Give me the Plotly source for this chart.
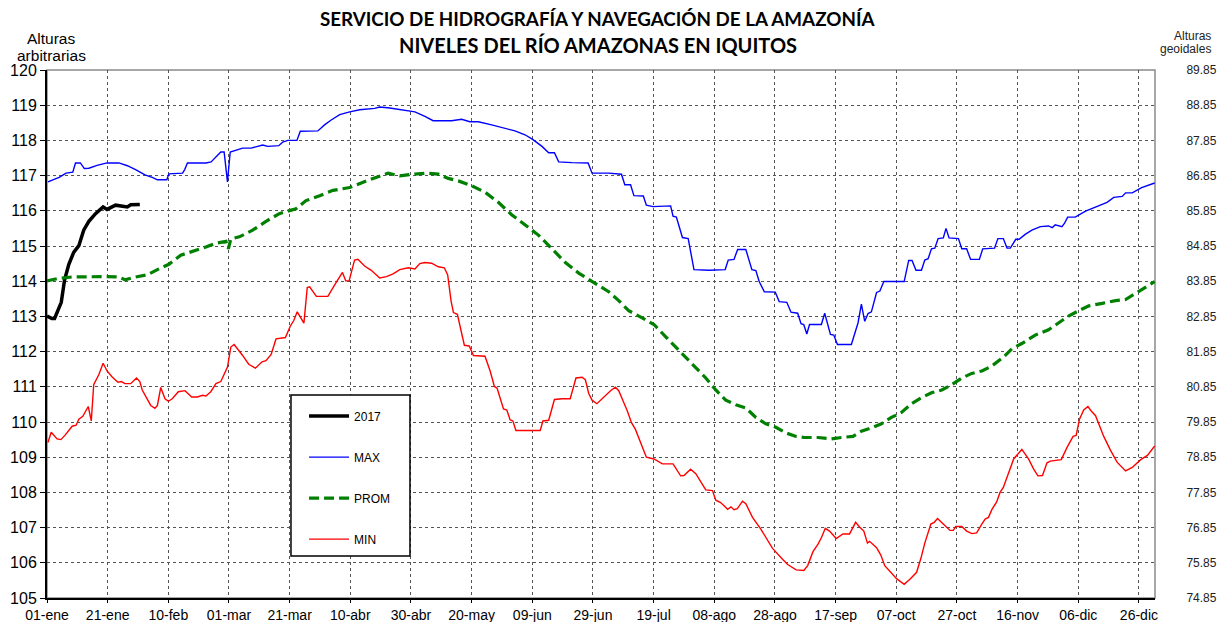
import plotly.graph_objects as go

# ---------------- data (day of year, leap-year calendar: 1 = 01-ene) ----------------
tick_days = [1, 21, 41, 61, 81, 101, 121, 141, 161, 181, 201, 221, 241, 261, 281, 301, 321, 341, 361]
tick_labels = ["01-ene", "21-ene", "10-feb", "01-mar", "21-mar", "10-abr", "30-abr", "20-may",
               "09-jun", "29-jun", "19-jul", "08-ago", "28-ago", "17-sep", "07-oct", "27-oct",
               "16-nov", "06-dic", "26-dic"]
left_ticks = list(range(105, 121))
right_ticks = [74.85, 75.85, 76.85, 77.85, 78.85, 79.85, 80.85, 81.85, 82.85, 83.85,
               84.85, 85.85, 86.85, 87.85, 88.85, 89.85]

y2017_days = [1, 2.6, 3.5, 4.9, 5.7, 6.8, 8.2, 9.8, 11.5, 13.1, 14.8, 17, 19.5, 20.8, 23.6, 27.5, 28.6, 31.6]
y2017_vals = [113.01, 112.94, 112.94, 113.27, 113.4, 114.04, 114.48, 114.82, 115.01, 115.45, 115.70,
              115.92, 116.11, 116.04, 116.16, 116.11, 116.17, 116.18]

max_days = [1.3, 3.2, 5, 7.3, 9.5, 10.4, 12, 13.3, 14.8, 17.5, 20.8, 24.7, 27.5, 30.2, 33.3, 35.7, 37.4,
            40.5, 41.2, 45.7, 46.4, 47.3, 53.4, 55.1, 56.7, 58.3, 59.4, 60.5, 61.4, 63.3, 65.5, 68.3,
            72.1, 73.8, 77.4, 78.7, 80.4, 83.4, 84.5, 90.3, 92.5, 94.7, 97.5, 100.8, 104.1, 109, 110.7,
            114, 118.4, 122.3, 125.6, 128.3, 134.4, 137.7, 140.4, 143.2, 147.6, 150.9, 155.3, 158.6,
            161.1, 164.2, 166.4, 168.3, 169.7, 174.1, 179.4, 180.7, 186.2, 190.4, 191.5, 193.4, 194.5,
            197.6, 198.6, 200.8, 206.6, 207.4, 208.5, 210.5, 212.4, 214.3, 219.3, 224.6, 225.6, 227.5,
            228.7, 231.4, 233.4, 234.7, 235.8, 237.5, 241.1, 242.4, 244.9, 246.3, 248.5, 249.6, 250.5,
            251.5, 252.4, 256.3, 257.4, 259.3, 260.4, 261.6, 266.2, 268.4, 269.5, 270.6, 271.7, 272.8,
            274.5, 275.6, 276.9, 283.6, 285.1, 286.2, 287.5, 289.3, 290.4, 291.5, 292.6, 293.7, 294.8,
            296.5, 297.4, 298.4, 301.5, 302.6, 304.2, 305.5, 308.4, 309.5, 313.4, 314.5, 316.3, 317.5,
            318.6, 320.4, 321.5, 323.5, 325.7, 328.5, 331.2, 332.4, 333.4, 335.6, 336.5, 337.5, 340,
            343.4, 346.1, 350.5, 352.7, 355.5, 356.6, 358.8, 361.9, 363.2, 366.2]
max_vals = [116.82, 116.89, 116.95, 117.07, 117.10, 117.36, 117.36, 117.20, 117.21, 117.29, 117.36,
            117.36, 117.28, 117.17, 117.02, 116.95, 116.88, 116.88, 117.05, 117.07, 117.17, 117.36,
            117.36, 117.39, 117.53, 117.67, 117.67, 116.82, 117.67, 117.73, 117.78, 117.78, 117.87,
            117.83, 117.85, 117.95, 118.0, 118.0, 118.26, 118.27, 118.44, 118.58, 118.73, 118.81,
            118.87, 118.91, 118.95, 118.92, 118.87, 118.81, 118.68, 118.56, 118.56, 118.60, 118.53,
            118.53, 118.44, 118.36, 118.27, 118.16, 118.03, 117.83, 117.65, 117.65, 117.39, 117.37,
            117.36, 117.07, 117.07, 117.04, 116.74, 116.74, 116.43, 116.42, 116.16, 116.12, 116.14,
            115.85, 115.82, 115.24, 115.21, 114.33, 114.31, 114.33, 114.60, 114.62, 114.90, 114.90,
            114.33, 114.30, 113.99, 113.70, 113.69, 113.42, 113.40, 113.12, 113.09, 112.79, 112.77,
            112.50, 112.77, 112.77, 113.09, 112.49, 112.47, 112.20, 112.20, 112.82, 113.35, 112.86,
            113.08, 113.13, 113.68, 113.72, 113.99, 113.99, 114.59, 114.59, 114.31, 114.31, 114.60,
            114.64, 114.92, 114.94, 115.21, 115.23, 115.50, 115.23, 115.21, 114.92, 114.92, 114.62,
            114.62, 114.92, 114.94, 115.21, 115.21, 114.94, 114.94, 115.19, 115.19, 115.33, 115.45,
            115.55, 115.57, 115.52, 115.60, 115.55, 115.65, 115.82, 115.82, 115.99, 116.09, 116.24,
            116.38, 116.41, 116.51, 116.51, 116.66, 116.70, 116.79]

prom_days = [1, 4.9, 9.3, 13.7, 19.2, 24.7, 26.7, 30.2, 34.1, 37.4, 41.2, 45.1, 50.1, 53.4, 56.7, 60,
             60.8, 61.6, 64.4, 68.8, 73.2, 77.6, 83.1, 86.4, 90.9, 95.3, 100.8, 104.6, 108.5, 113.5,
             117.3, 121.7, 126.1, 130, 133.3, 136.6, 141, 145.4, 149.8, 154.2, 158.6, 163, 167.5,
             171.9, 176.3, 180.7, 186.2, 189.5, 192.8, 197.2, 201.1, 205, 209.4, 213.8, 218.2, 221.5,
             224.8, 228.1, 231.4, 234.7, 238, 241.3, 244.6, 248, 250.7, 255.2, 259.6, 262.9, 266.7,
             269.5, 272.8, 276.1, 279.4, 282.7, 286, 289.3, 292.6, 296, 299.3, 302.6, 305.9, 309.2,
             312.5, 316.3, 319.1, 322.4, 326.8, 331.2, 334.5, 337.8, 341.1, 344.5, 348.9, 353.3,
             356.6, 359.9, 363.2, 366.2]
prom_vals = [114.01, 114.08, 114.12, 114.13, 114.13, 114.12, 114.04, 114.12, 114.18, 114.33, 114.48,
             114.74, 114.87, 114.97, 115.08, 115.13, 114.92, 115.20, 115.26, 115.45, 115.70, 115.92,
             116.06, 116.29, 116.43, 116.58, 116.66, 116.79, 116.92, 117.07, 116.99, 117.04, 117.07,
             117.04, 116.92, 116.85, 116.71, 116.53, 116.24, 115.89, 115.60, 115.31, 114.92, 114.53,
             114.23, 113.99, 113.70, 113.45, 113.16, 112.96, 112.77, 112.42, 112.03, 111.64, 111.25,
             110.91, 110.62, 110.49, 110.40, 110.13, 109.95, 109.85, 109.69, 109.59, 109.56, 109.56,
             109.52, 109.56, 109.59, 109.74, 109.83, 109.95, 110.13, 110.27, 110.52, 110.69, 110.83,
             110.91, 111.06, 111.25, 111.38, 111.45, 111.59, 111.84, 112.08, 112.23, 112.47, 112.62,
             112.82, 113.01, 113.16, 113.30, 113.37, 113.45, 113.48, 113.65, 113.82, 113.99]

min_days = [1.3, 2.4, 4.3, 5.6, 7.1, 9.3, 10.6, 11.5, 12.8, 14.6, 15.6, 16.4, 18.1, 19.5, 20.8, 22.5,
            24.4, 25.5, 26.7, 28.6, 30.5, 31.6, 32.4, 33.7, 35.2, 36.6, 37.4, 38.5, 39.9, 41, 42.3,
            44.3, 46.5, 48.7, 50.6, 52.3, 53.4, 55, 56.7, 58.3, 60.5, 61.6, 62.7, 65.5, 67.5, 69.7,
            71.9, 73.2, 74.9, 76.5, 79.6, 81.2, 82.4, 83.5, 84.5, 85.7, 86.8, 87.6, 89.8, 93.6, 95.8,
            98.4, 99.5, 100.6, 102.4, 103.5, 105.7, 107.9, 110.7, 112.9, 115.1, 117.3, 120.1, 122.3,
            123.9, 125.6, 127.8, 130, 132, 133.1, 134.2, 135, 136.3, 137.4, 138.6, 140.2, 141.6,
            145.4, 147.1, 148.5, 149.4, 151.5, 152.6, 153.7, 154.6, 155.6, 160.8, 163.6, 164.5,
            166.4, 168.3, 170.8, 173.5, 175.4, 177.4, 178.5, 179.6, 180.7, 182.3, 184.6, 186.8,
            188.4, 189.5, 192.3, 193.7, 195, 196.7, 198.6, 201.1, 203.9, 207.4, 209.9, 211, 213.2,
            214.9, 218.2, 220.4, 221.5, 223.1, 225.4, 226.5, 227.5, 228.6, 230.3, 231.4, 233.6,
            236.4, 240.2, 243.5, 245.2, 248, 250.5, 251.8, 253.5, 255.2, 256.3, 257.6, 259, 261.2,
            263.4, 265.6, 267.6, 268.9, 270.3, 271.5, 272.2, 274.5, 275.9, 277.2, 278.9, 281.1,
            283.6, 285.5, 287.7, 289.1, 290.4, 292.4, 293.5, 294.6, 296.5, 298.7, 299.8, 300.6,
            302.6, 304.2, 305.9, 307.5, 309.2, 310.3, 311.4, 312.5, 314.1, 315.2, 316.3, 318, 319.7,
            322.4, 324.6, 326.3, 327.7, 329.2, 330.7, 331.8, 335.4, 337.3, 339.3, 340.3, 341.4,
            342.8, 344.2, 345.2, 346.7, 349.4, 351.6, 353.8, 356.6, 358.8, 361.6, 363.8, 366.2]
min_vals = [109.42, 109.71, 109.52, 109.50, 109.64, 109.88, 109.91, 110.08, 110.16, 110.44, 110.03,
            111.06, 111.35, 111.67, 111.45, 111.28, 111.13, 111.15, 111.09, 111.09, 111.25, 111.15,
            110.91, 110.71, 110.47, 110.39, 110.47, 110.98, 110.66, 110.59, 110.66, 110.86, 110.89,
            110.71, 110.71, 110.76, 110.74, 110.86, 111.09, 111.15, 111.56, 112.13, 112.20, 111.89,
            111.64, 111.53, 111.71, 111.74, 111.92, 112.36, 112.40, 112.72, 112.89, 113.13, 112.98,
            112.81, 113.82, 113.84, 113.57, 113.57, 113.89, 114.25, 114.01, 114.01, 114.60, 114.62,
            114.43, 114.31, 114.09, 114.13, 114.21, 114.33, 114.38, 114.35, 114.50, 114.53, 114.51,
            114.41, 114.38, 114.18, 113.45, 113.11, 113.06, 112.62, 112.18, 112.16, 111.89, 111.87,
            111.45, 111.01, 110.96, 110.37, 110.34, 110.06, 110.03, 109.76, 109.77, 109.76, 110.03,
            110.05, 110.64, 110.66, 110.66, 111.25, 111.27, 111.20, 110.81, 110.62, 110.52, 110.71,
            110.89, 110.99, 110.89, 110.32, 109.98, 109.79, 109.39, 109.00, 108.95, 108.81, 108.81,
            108.47, 108.48, 108.66, 108.53, 108.07, 108.05, 107.78, 107.71, 107.52, 107.59, 107.51,
            107.54, 107.75, 107.68, 107.29, 106.95, 106.41, 106.10, 105.95, 105.80, 105.78, 105.92,
            106.31, 106.53, 106.71, 106.98, 106.90, 106.69, 106.82, 106.82, 107.15, 107.02, 106.90,
            106.56, 106.61, 106.43, 106.22, 105.92, 105.76, 105.55, 105.39, 105.53, 105.73, 106.12,
            106.56, 107.10, 107.15, 107.26, 107.10, 106.92, 106.92, 107.03, 107.03, 106.90, 106.83,
            106.85, 107.10, 107.24, 107.29, 107.51, 107.73, 108.0, 108.14, 108.56, 108.95, 109.22,
            108.95, 108.66, 108.47, 108.48, 108.84, 108.89, 108.93, 109.28, 109.59, 109.62, 110.08,
            110.34, 110.44, 110.32, 110.18, 109.59, 109.20, 108.86, 108.61, 108.71, 108.93, 109.05,
            109.32]

# ---------------- figure ----------------
FONT = "Liberation Sans, Arial, sans-serif"
TFONT = "Lato, sans-serif"
fig = go.Figure()

fig.add_trace(go.Scatter(x=y2017_days, y=y2017_vals, name="2017", mode="lines",
                         line=dict(color="#000000", width=3.5), legendgroup="a"))
fig.add_trace(go.Scatter(x=max_days, y=max_vals, name="MAX", mode="lines",
                         line=dict(color="#0000FF", width=1.4), legendgroup="b"))
fig.add_trace(go.Scatter(x=prom_days, y=prom_vals, name="PROM", mode="lines",
                         line=dict(color="#008000", width=3.2, dash="10px,5px"), legendgroup="c"))
fig.add_trace(go.Scatter(x=min_days, y=min_vals, name="MIN", mode="lines",
                         line=dict(color="#FF0000", width=1.4), legendgroup="d"))
# secondary (geoidal) axis carrier
fig.add_trace(go.Scatter(x=[None], y=[None], yaxis="y2", showlegend=False, hoverinfo="skip"))


def label(text, x, xshift, yshift, size, xanchor="center", bold=False, family=FONT, color="#000000"):
    return dict(text=f"<b>{text}</b>" if bold else text, xref="paper", yref="paper",
                x=x, y=1.0, xshift=xshift, yshift=yshift, xanchor=xanchor, yanchor="middle",
                showarrow=False, font=dict(size=size, family=family, color=color))


# the page body adds an 8px offset, so margins are reduced by 8 on the left/top
fig.update_layout(
    width=1225, height=622,
    margin=dict(l=39, r=78, t=62, b=32, autoexpand=False),
    paper_bgcolor="white", plot_bgcolor="white",
    font=dict(family=FONT, color="#000000"),
    showlegend=True,
    legend=dict(x=0.232, y=0.372, xanchor="left", yanchor="top",
                bgcolor="rgba(0,0,0,0)", borderwidth=0,
                font=dict(size=12, family=FONT), tracegroupgap=22, itemwidth=40),
    xaxis=dict(range=[1, 366.3], tickmode="array", tickvals=tick_days, ticktext=tick_labels,
               showgrid=True, gridcolor="#555555", griddash="dot", gridwidth=1,
               showline=True, linecolor="#000000", linewidth=2, automargin=False,
               ticks="outside", ticklen=3, tickcolor="#000000",
               tickfont=dict(size=14, family=FONT), zeroline=False),
    yaxis=dict(range=[105, 120], tickmode="array", tickvals=left_ticks,
               showgrid=True, gridcolor="#555555", griddash="dot", gridwidth=1,
               showline=True, linecolor="#000000", linewidth=2, automargin=False,
               ticks="outside", ticklen=5, tickcolor="#000000",
               tickfont=dict(size=16, family=FONT), zeroline=False),
    yaxis2=dict(range=[74.85, 89.85], overlaying="y", side="right", tickmode="array",
                tickvals=right_ticks, ticktext=[f"{v:.2f}" for v in right_ticks],
                showgrid=False, showline=False, zeroline=False, automargin=False,
                ticks="outside", ticklen=28, tickcolor="rgba(0,0,0,0)",
                tickfont=dict(size=12, family=FONT, color="#222222")),
    shapes=[
        dict(type="rect", xref="paper", yref="paper", x0=0, y0=0, x1=1, y1=1,
             line=dict(color="#8a8a8a", width=1.5), layer="below"),
        dict(type="rect", xref="paper", yref="paper", x0=0.2202, y0=0.0795, x1=0.3276, y1=0.3845,
             line=dict(color="#000000", width=1.5), fillcolor="white", layer="above"),
    ],
    annotations=[
        label("SERVICIO DE HIDROGRAFÍA Y NAVEGACIÓN DE LA AMAZONÍA", 0.497, 0, 52, 18.8, bold=True, family=TFONT),
        label("NIVELES DEL RÍO AMAZONAS EN IQUITOS", 0.497, 0, 25, 20, bold=True, family=TFONT),
        label("Alturas", 0, 4, 32, 15.5),
        label("arbitrarias", 0, 4, 15, 15.5),
        label("Alturas", 1, 58, 34, 12, xanchor="right", color="#222222"),
        label("geoidales", 1, 58, 21, 12, xanchor="right", color="#222222"),
    ],
)

fig.write_html("out.html")
